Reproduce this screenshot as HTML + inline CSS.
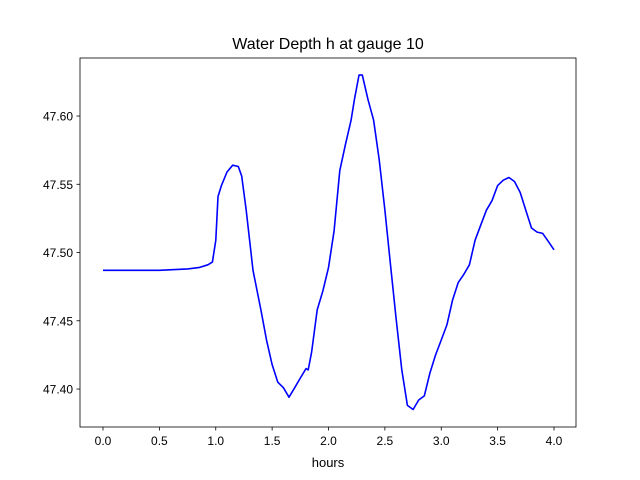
<!DOCTYPE html>
<html><head><meta charset="utf-8"><style>
body{margin:0;background:#fff}
svg{display:block;font-family:"Liberation Sans","DejaVu Sans",sans-serif}
</style></head><body>
<svg id="c" width="640" height="480">
<rect width="640" height="480" fill="#fff"/>
<text x="328" y="49" text-anchor="middle" font-size="16">Water Depth h at gauge 10</text>
<text x="328" y="467" text-anchor="middle" font-size="13">hours</text>
<g id="ax"></g>
</svg>
<script>
const hours=[0,0.5,0.75,0.85,0.93,0.97,1.0,1.02,1.05,1.1,1.15,1.2,1.23,1.27,1.3,1.33,1.4,1.45,1.5,1.55,1.6,1.65,1.7,1.75,1.8,1.82,1.85,1.9,1.95,2.0,2.05,2.1,2.15,2.2,2.23,2.27,2.3,2.35,2.4,2.45,2.5,2.55,2.6,2.65,2.7,2.75,2.8,2.85,2.9,2.95,3.0,3.05,3.1,3.15,3.2,3.25,3.3,3.35,3.4,3.45,3.5,3.55,3.6,3.65,3.7,3.75,3.8,3.85,3.9,3.95,4.0];
const depth=[47.487,47.487,47.488,47.489,47.491,47.493,47.509,47.541,47.549,47.559,47.564,47.563,47.556,47.531,47.509,47.487,47.458,47.436,47.418,47.405,47.401,47.394,47.401,47.408,47.415,47.414,47.427,47.458,47.472,47.489,47.516,47.560,47.579,47.597,47.612,47.630,47.630,47.612,47.597,47.568,47.531,47.491,47.451,47.414,47.388,47.385,47.392,47.395,47.412,47.425,47.436,47.447,47.465,47.478,47.484,47.491,47.509,47.520,47.531,47.538,47.549,47.553,47.555,47.552,47.544,47.531,47.518,47.515,47.514,47.508,47.502];
const xTicks=[0,0.5,1.0,1.5,2.0,2.5,3.0,3.5,4.0];
const xLabels=["0.0","0.5","1.0","1.5","2.0","2.5","3.0","3.5","4.0"];
const yTicks=[47.40,47.45,47.50,47.55,47.60];
const yLabels=["47.40","47.45","47.50","47.55","47.60"];
const L=80,R=576,T=58,B=427;
const xMin=-0.204,xMax=4.195,yMin=47.3722,yMax=47.6425;
const X=v=>L+(v-xMin)/(xMax-xMin)*(R-L);
const Y=v=>B-(v-yMin)/(yMax-yMin)*(B-T);
const NS="http://www.w3.org/2000/svg";
const g=document.getElementById('ax');
function mk(t,a){const e=document.createElementNS(NS,t);for(const k in a)e.setAttribute(k,a[k]);g.appendChild(e);return e;}
xTicks.forEach((v,i)=>{
 const l=mk('line',{x1:X(v),x2:X(v),y1:B,y2:B+3.5,stroke:'#000','stroke-width':0.8});
 
 
 const t=mk('text',{x:X(v),y:B+18,'text-anchor':'middle','font-size':12});
 
 
 t.textContent=xLabels[i];
});
yTicks.forEach((v,i)=>{
 const l=mk('line',{x1:L-3.5,x2:L,y1:Y(v),y2:Y(v),stroke:'#000','stroke-width':0.8});
 
 
 const t=mk('text',{x:L-7,y:Y(v)+4.5,'text-anchor':'end','font-size':12});
 
 
 t.textContent=yLabels[i];
});
const p=mk('polyline',{points:hours.map((h,i)=>X(h).toFixed(1)+','+Y(depth[i]).toFixed(1)).join(' '),fill:'none',stroke:'#0000ff','stroke-width':1.6,'stroke-linejoin':'round'});


const f=mk('rect',{x:L,y:T,width:R-L,height:B-T,fill:'none',stroke:'#000','stroke-width':0.8});


</script>
</body></html>
